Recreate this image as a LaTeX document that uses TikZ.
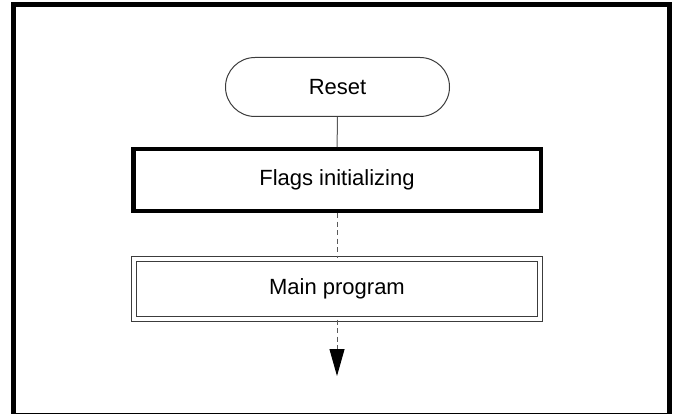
\documentclass[tikz,border=0pt]{standalone}
\usepackage{fontspec}
\setmainfont{Liberation Sans}
\usetikzlibrary{arrows.meta,shapes.misc}
\definecolor{EdgeGrey}{HTML}{3C3C3C}
\definecolor{LineGrey}{HTML}{5A5A5A}

\begin{document}
\begin{tikzpicture}[x=1pt, y=-1pt,
    every node/.style={font=\fontsize{22}{26}\selectfont, inner sep=0pt},
    terminal/.style={draw=EdgeGrey, line width=1pt, rounded rectangle, minimum width=224pt, minimum height=59pt},
    procbox/.style={draw=black, line width=4.5pt, minimum width=407.5pt, minimum height=61.5pt},
    subbox/.style={draw=EdgeGrey, double, line width=1.3pt, double distance=3.2pt, minimum width=406pt, minimum height=60pt},
    link/.style={LineGrey, line width=1pt}]
    \clip (0,0) rectangle (676,414);
    % outer frame
    \draw[line width=5pt] (13.5,4.5) rectangle (669.5,415);
    \node[terminal] (reset) at (337.5,87) {Reset};
    \node[procbox] (flags) at (337,180) {Flags initializing};
    \node[subbox] (main) at (337,289) {Main program};
    \coordinate (next) at (337,376);
    \draw[link] (reset) -- (flags);
    \draw[link, dash pattern=on 5pt off 3.5pt] (flags) -- (main);
    \draw[link, dash pattern=on 5pt off 3.5pt, -{Triangle[length=27pt, width=15pt, color=black]}] (main) -- (next);
\end{tikzpicture}
\end{document}
